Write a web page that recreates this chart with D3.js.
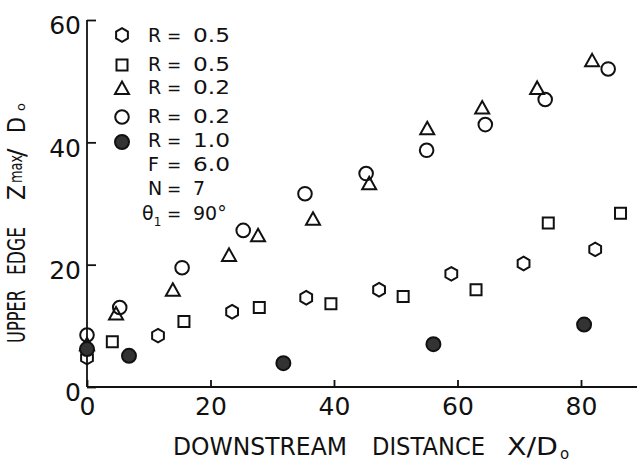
<!DOCTYPE html>
<html>
<head>
<meta charset="utf-8">
<script src="https://cdn.jsdelivr.net/npm/d3@7"></script>
<style>
  body { margin: 0; background: #fff; }
  svg { display: block; }
  text { font-family: "DejaVu Sans", sans-serif; font-weight: normal; fill: #111; }
</style>
</head>
<body>
<svg id="chart"></svg>
<script>
// values (X/Do, Zmax/Do)
var hexX = [0, 11.5, 23.5, 35.5, 47.3, 59, 70.7, 82.3];
var hexZ = [4.8, 8.4, 12.3, 14.6, 15.9, 18.5, 20.2, 22.5];

var sqX = [4.1, 15.7, 27.9, 39.5, 51.2, 63, 74.7, 86.4];
var sqZ = [7.4, 10.7, 13.0, 13.6, 14.8, 15.9, 26.8, 28.4];

var triX = [0, 4.7, 13.9, 23, 27.7, 36.6, 45.7, 55.1, 64, 72.9, 81.8];
var triZ = [7, 12.0, 15.9, 21.6, 24.8, 27.5, 33.3, 42.3, 45.7, 48.9, 53.4];

var cirX = [0, 5.3, 15.4, 25.3, 35.3, 45.2, 55, 64.5, 74.2, 84.4];
var cirZ = [8.5, 13.0, 19.5, 25.6, 31.6, 34.9, 38.7, 42.9, 47.0, 52.0];

var dotX = [0, 6.8, 31.8, 56.1, 80.5];
var dotZ = [6.2, 5.1, 3.9, 7.0, 10.2];

var xTicks = [0, 20, 40, 60, 80];
var yTicks = [0, 20, 40, 60];

var legendR = ["0.5", "0.5", "0.2", "0.2", "1.0"];
var legendShapes = ["hex", "square", "tri", "circle", "dot"];

var width = 637, height = 467;
var svg = d3.select("#chart").attr("width", width).attr("height", height);

var x = d3.scaleLinear().domain([0, 80]).range([87, 581]);
var y = d3.scaleLinear().domain([0, 60]).range([387, 20]);

// axes
var xAxis = svg.append("g")
  .attr("transform", "translate(0," + y(0) + ")")
  .call(d3.axisBottom(x).tickValues(xTicks).tickSizeInner(-7).tickSizeOuter(0).tickPadding(10));
var yAxis = svg.append("g")
  .attr("transform", "translate(" + x(0) + ",0)")
  .call(d3.axisLeft(y).tickValues(yTicks).tickSizeInner(-9).tickSizeOuter(0).tickPadding(6));

[xAxis, yAxis].forEach(function(g) {
  g.select(".domain").remove();
  g.selectAll(".tick line").attr("stroke", "#111").attr("stroke-width", 1.8);
  g.selectAll(".tick text").attr("font-size", 25).attr("font-family", null).attr("fill", "#111");
});
yAxis.selectAll(".tick text").attr("dy", "0.55em");

svg.append("line")
  .attr("x1", x(0)).attr("x2", width).attr("y1", y(0)).attr("y2", y(0))
  .attr("stroke", "#111").attr("stroke-width", 1.8);
svg.append("line")
  .attr("x1", x(0)).attr("x2", x(0)).attr("y1", y(60)).attr("y2", y(0))
  .attr("stroke", "#111").attr("stroke-width", 1.8);

// marker shapes
function shapePath(kind) {
  var p = d3.path();
  if (kind == "hex") {
    var r = 6.8;
    for (var i = 0; i < 6; i++) {
      var a = Math.PI / 3 * i - Math.PI / 2;
      if (i == 0) p.moveTo(r * Math.cos(a), r * Math.sin(a));
      else p.lineTo(r * Math.cos(a), r * Math.sin(a));
    }
    p.closePath();
  } else if (kind == "square") {
    p.rect(-5.5, -5.5, 11, 11);
  } else if (kind == "tri") {
    p.moveTo(0, -6.5); p.lineTo(7, 6); p.lineTo(-7, 6); p.closePath();
  } else {
    p.arc(0, 0, kind == "dot" ? 7 : 6.8, 0, 2 * Math.PI);
  }
  return p.toString();
}

function drawSeries(xs, zs, kind) {
  var pts = xs.map(function(v, i) { return [v, zs[i]]; });
  svg.append("g").selectAll("path")
    .data(pts)
    .enter().append("path")
    .attr("d", shapePath(kind))
    .attr("transform", function(d) { return "translate(" + x(d[0]) + "," + y(d[1]) + ")"; })
    .attr("fill", kind == "dot" ? "#333" : "none")
    .attr("stroke", "#111")
    .attr("stroke-width", 2);
}

drawSeries(hexX, hexZ, "hex");
drawSeries(sqX, sqZ, "square");
drawSeries(triX, triZ, "tri");
drawSeries(cirX, cirZ, "circle");
drawSeries(dotX, dotZ, "dot");

// legend
var rowY = [35, 65, 88, 117, 142];
var textY = [42, 71, 94, 123, 147];
var legend = svg.append("g");
function legendLine(label, value, yy) {
  legend.append("text").attr("x", 148).attr("y", yy).attr("font-size", 19).text(label);
  legend.append("text").attr("x", 167).attr("y", yy).attr("font-size", 17).text("=");
  legend.append("text").attr("x", 193).attr("y", yy).attr("font-size", 19)
    .attr("textLength", value.length > 1 ? 37 : null).attr("lengthAdjust", "spacingAndGlyphs").text(value);
}
legendShapes.forEach(function(kind, i) {
  legend.append("path")
    .attr("d", shapePath(kind))
    .attr("transform", "translate(122," + rowY[i] + ")")
    .attr("fill", kind == "dot" ? "#333" : "none")
    .attr("stroke", "#111").attr("stroke-width", 2);
  legendLine("R", legendR[i], textY[i]);
});
legendLine("F", "6.0", 171);
legendLine("N", "7", 195);

var th = legend.append("text").attr("x", 142).attr("y", 220).attr("font-size", 19);
th.append("tspan").text("θ");
th.append("tspan").attr("font-size", 12).attr("dy", 6).text("1");
legend.append("text").attr("x", 167).attr("y", 220).attr("font-size", 17).text("=");
legend.append("text").attr("x", 193).attr("y", 220).attr("font-size", 19).text("90°");

// x axis title
var xt = svg.append("g").attr("font-size", 24);
xt.append("text").attr("x", 173).attr("y", 455).attr("textLength", 174).attr("lengthAdjust", "spacingAndGlyphs").text("DOWNSTREAM");
xt.append("text").attr("x", 372).attr("y", 455).attr("textLength", 113).attr("lengthAdjust", "spacingAndGlyphs").text("DISTANCE");
xt.append("text").attr("x", 507).attr("y", 455).attr("textLength", 51).attr("lengthAdjust", "spacingAndGlyphs").text("X/D");
xt.append("text").attr("x", 560).attr("y", 459).attr("font-size", 15).text("o");

// y axis title (rotated)
var yt = svg.append("g").attr("transform", "translate(25,0) rotate(-90)").attr("font-size", 25);
yt.append("text").attr("x", -343).attr("y", 0).attr("textLength", 53).attr("lengthAdjust", "spacingAndGlyphs").text("UPPER");
yt.append("text").attr("x", -275).attr("y", 0).attr("textLength", 48).attr("lengthAdjust", "spacingAndGlyphs").text("EDGE");
yt.append("text").attr("x", -200).attr("y", 0).attr("textLength", 15).attr("lengthAdjust", "spacingAndGlyphs").text("Z");
yt.append("text").attr("x", -183).attr("y", -3).attr("font-size", 17).attr("textLength", 28).attr("lengthAdjust", "spacingAndGlyphs").text("max");
yt.append("text").attr("x", -157).attr("y", 0).text("/");
yt.append("text").attr("x", -133).attr("y", 0).attr("textLength", 16).attr("lengthAdjust", "spacingAndGlyphs").text("D");
yt.append("text").attr("x", -111).attr("y", 0).attr("font-size", 13).text("o");
</script>
</body>
</html>
